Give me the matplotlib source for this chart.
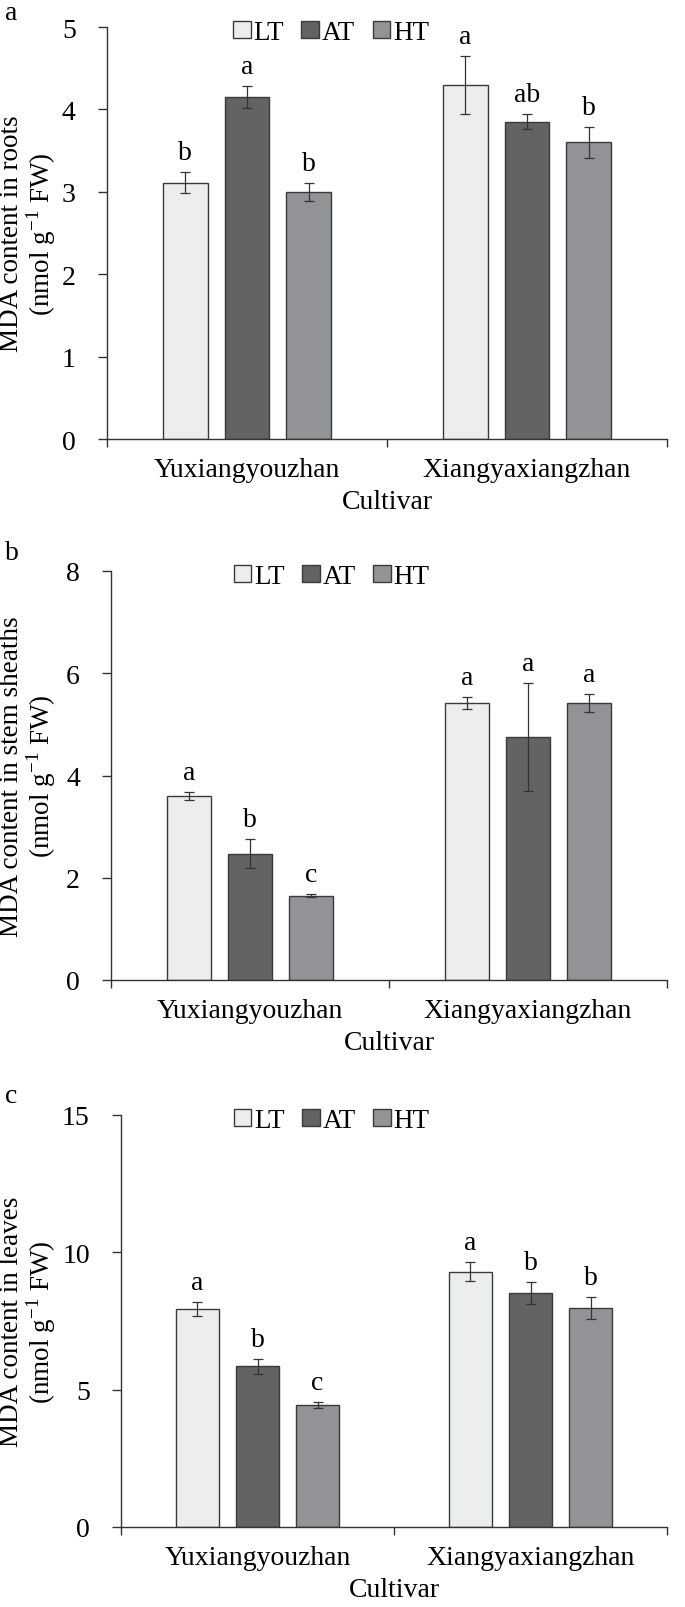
import numpy as np
import matplotlib
matplotlib.use("Agg")
import matplotlib.pyplot as plt
from matplotlib.patches import Patch

plt.rcParams['font.family'] = ['Liberation Serif', 'DejaVu Serif']
plt.rcParams['mathtext.fontset'] = 'custom'
plt.rcParams['mathtext.rm'] = 'Liberation Serif'

cultivars = ['Yuxiangyouzhan', 'Xiangyaxiangzhan']
treatments = ['LT', 'AT', 'HT']
colors = ['#eceeed', '#636365', '#929396']

# panel a: roots
roots_mean = [[3.11, 4.30], [4.15, 3.85], [3.00, 3.60]]
roots_err = [[0.13, 0.35], [0.13, 0.09], [0.11, 0.19]]
roots_let = [['b', 'a'], ['a', 'ab'], ['b', 'b']]

# panel b: stem sheaths
stem_mean = [[3.60, 5.42], [2.47, 4.75], [1.65, 5.42]]
stem_err = [[0.08, 0.12], [0.28, 1.05], [0.03, 0.18]]
stem_let = [['a', 'a'], ['b', 'a'], ['c', 'a']]

# panel c: leaves
leaves_mean = [[7.95, 9.30], [5.85, 8.52], [4.45, 7.97]]
leaves_err = [[0.25, 0.35], [0.28, 0.40], [0.10, 0.40]]
leaves_let = [['a', 'a'], ['b', 'b'], ['c', 'b']]

W, H = 685.0, 1608.0


def box(left, top, bottom, right=667):
    return [left / W, 1 - bottom / H, (right - left) / W, (bottom - top) / H]


panels = [
    ('a', roots_mean, roots_err, roots_let, 'MDA content in roots', 5, 1,
     box(107, 28, 440), 20, 0.400),
    ('b', stem_mean, stem_err, stem_let, 'MDA content in stem sheaths', 8, 2,
     box(111, 572, 981), 560, 0.397),
    ('c', leaves_mean, leaves_err, leaves_let, 'MDA content in leaves', 15, 5,
     box(121, 1116, 1528), 1103, 0.386),
]

fig = plt.figure(figsize=(6.85, 16.08), dpi=100)
x = np.arange(len(cultivars))
w = 0.16
off = [-0.22, 0.0, 0.22]
fs = 20

for tag, mean, err, lets, lab, ymax, step, bx, tag_y, leg_x in panels:
    ax = fig.add_axes(bx)
    ax_h_px = bx[3] * H
    pad = 13 * ymax / ax_h_px
    for i in range(3):
        ax.bar(x + off[i], mean[i], w, color=colors[i], edgecolor='#3a3a3a',
               linewidth=1.0, yerr=err[i], capsize=3.5,
               error_kw=dict(ecolor='#333333', elinewidth=0.9, capthick=0.9))
        for j in range(2):
            ax.text(x[j] + off[i], mean[i][j] + err[i][j] + pad, lets[i][j],
                    ha='center', va='baseline', fontsize=fs)
    ax.set_xlim(-0.5, 1.5)
    ax.set_ylim(0, ymax)
    ax.set_yticks(np.arange(0, ymax + 0.01, step))
    ax.set_xticks(x)
    ax.set_xticklabels(cultivars, fontsize=fs)
    ax.set_xticks([-0.5, 0.5, 1.5], minor=True)
    ax.tick_params(axis='x', which='major', length=0, pad=13)
    ax.tick_params(axis='x', which='minor', length=6, direction='out', width=1,
                   color='#333333')
    ax.tick_params(axis='y', length=6.5, direction='out', width=1, labelsize=fs,
                   pad=16, color='#333333')
    for s in ['top', 'right']:
        ax.spines[s].set_visible(False)
    for s in ['left', 'bottom']:
        ax.spines[s].set_linewidth(1.0)
        ax.spines[s].set_color('#333333')
    ax.set_ylabel(lab + '\n(nmol g$^{-1}$ FW)', fontsize=19.5, linespacing=1.0)
    lx = (58 - bx[0] * W) / (bx[2] * W)
    ax.yaxis.set_label_coords(lx, 0.5)
    ax.set_xlabel('Cultivar', fontsize=fs, labelpad=5)
    handles = [Patch(facecolor=c, edgecolor='#3a3a3a', linewidth=1.0) for c in colors]
    leg_y = 1 - 5.5 / ax_h_px
    ax.legend(handles, treatments, loc='center', bbox_to_anchor=(leg_x, leg_y),
              ncol=3, frameon=False, fontsize=19.5, handlelength=0.65,
              handleheight=0.6, handletextpad=0.1, columnspacing=0.65,
              borderpad=0, borderaxespad=0)
    fig.text(5 / W, 1 - tag_y / H, tag, fontsize=fs, ha='left', va='baseline')

fig.savefig('out.png', dpi=100)
